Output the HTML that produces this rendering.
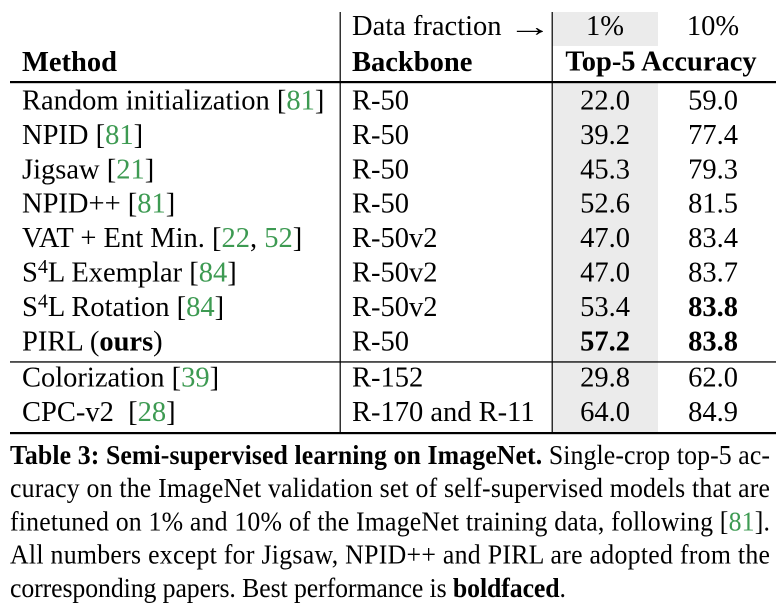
<!DOCTYPE html>
<html>
<head>
<meta charset="utf-8">
<style>
  html, body { margin: 0; padding: 0; background: #fff; }
  body { width: 776px; height: 608px; overflow: hidden; }
  svg { display: block; }
  text { font-family: "Liberation Serif", "Times New Roman", serif; fill: #000; }
  .t { font-size: 28.5px; }
  .b { font-weight: bold; }
  .g { fill: #3d9a52; }
  .c { font-size: 25.8px; }
</style>
</head>
<body>
<svg width="776" height="608" viewBox="0 0 776 608" xmlns="http://www.w3.org/2000/svg">
  <rect x="0" y="0" width="776" height="608" fill="#fff"/>

  <!-- gray shading for 1% column -->
  <rect x="552" y="12" width="106" height="34" fill="#ebebeb"/>
  <rect x="552" y="83" width="106" height="349" fill="#ebebeb"/>

  <!-- rules -->
  <rect x="10" y="81" width="766" height="2.2" fill="#000"/>
  <rect x="10" y="361.3" width="766" height="1.3" fill="#000"/>
  <rect x="10" y="432" width="766" height="2.2" fill="#000"/>

  <!-- vertical lines -->
  <rect x="339.6" y="12" width="1.2" height="421" fill="#000"/>
  <rect x="551.6" y="12" width="1.2" height="421" fill="#000"/>

  <!-- header -->
  <text class="t" x="352" y="35">Data fraction</text>
  <g transform="translate(508,36) scale(1.55,1)">
    <text class="t" x="0" y="0">→</text>
  </g>
  <text class="t" x="605" y="35" text-anchor="middle">1%</text>
  <text class="t" x="713" y="35" text-anchor="middle">10%</text>

  <text class="t b" x="22" y="71">Method</text>
  <text class="t b" x="352" y="71">Backbone</text>
  <text class="t b" x="661" y="70.5" text-anchor="middle">Top-5 Accuracy</text>

  <!-- rows -->
  <text class="t" x="22" y="109.5">Random initialization [<tspan class="g">81</tspan>]</text>
  <text class="t" x="352" y="109.5">R-50</text>
  <text class="t" x="605" y="109.5" text-anchor="middle">22.0</text>
  <text class="t" x="713" y="109.5" text-anchor="middle">59.0</text>

  <text class="t" x="22" y="143.9">NPID [<tspan class="g">81</tspan>]</text>
  <text class="t" x="352" y="143.9">R-50</text>
  <text class="t" x="605" y="143.9" text-anchor="middle">39.2</text>
  <text class="t" x="713" y="143.9" text-anchor="middle">77.4</text>

  <text class="t" x="22" y="178.3">Jigsaw [<tspan class="g">21</tspan>]</text>
  <text class="t" x="352" y="178.3">R-50</text>
  <text class="t" x="605" y="178.3" text-anchor="middle">45.3</text>
  <text class="t" x="713" y="178.3" text-anchor="middle">79.3</text>

  <text class="t" x="22" y="212.7">NPID++ [<tspan class="g">81</tspan>]</text>
  <text class="t" x="352" y="212.7">R-50</text>
  <text class="t" x="605" y="212.7" text-anchor="middle">52.6</text>
  <text class="t" x="713" y="212.7" text-anchor="middle">81.5</text>

  <text class="t" x="22" y="247.1">VAT + Ent Min. [<tspan class="g">22</tspan>, <tspan class="g">52</tspan>]</text>
  <text class="t" x="352" y="247.1">R-50v2</text>
  <text class="t" x="605" y="247.1" text-anchor="middle">47.0</text>
  <text class="t" x="713" y="247.1" text-anchor="middle">83.4</text>

  <text class="t" x="22" y="281.5">S<tspan font-size="20" dy="-8.5">4</tspan><tspan dy="8.5">L Exemplar [</tspan><tspan class="g">84</tspan>]</text>
  <text class="t" x="352" y="281.5">R-50v2</text>
  <text class="t" x="605" y="281.5" text-anchor="middle">47.0</text>
  <text class="t" x="713" y="281.5" text-anchor="middle">83.7</text>

  <text class="t" x="22" y="315.9">S<tspan font-size="20" dy="-8.5">4</tspan><tspan dy="8.5">L Rotation [</tspan><tspan class="g">84</tspan>]</text>
  <text class="t" x="352" y="315.9">R-50v2</text>
  <text class="t" x="605" y="315.9" text-anchor="middle">53.4</text>
  <text class="t b" x="713" y="315.9" text-anchor="middle">83.8</text>

  <text class="t" x="22" y="350.3">PIRL (<tspan class="b">ours</tspan>)</text>
  <text class="t" x="352" y="350.3">R-50</text>
  <text class="t b" x="605" y="350.3" text-anchor="middle">57.2</text>
  <text class="t b" x="713" y="350.3" text-anchor="middle">83.8</text>

  <text class="t" x="22" y="386.5">Colorization [<tspan class="g">39</tspan>]</text>
  <text class="t" x="352" y="386.5">R-152</text>
  <text class="t" x="605" y="386.5" text-anchor="middle">29.8</text>
  <text class="t" x="713" y="386.5" text-anchor="middle">62.0</text>

  <text class="t" x="22" y="421" xml:space="preserve">CPC-v2  [<tspan class="g">28</tspan>]</text>
  <text class="t" x="352" y="421">R-170 and R-11</text>
  <text class="t" x="605" y="421" text-anchor="middle">64.0</text>
  <text class="t" x="713" y="421" text-anchor="middle">84.9</text>

  <!-- caption -->
  <g transform="translate(10,464) scale(1,1.07)">
    <text class="c" x="0" y="0" textLength="760" lengthAdjust="spacing"><tspan class="b">Table 3: Semi-supervised learning on ImageNet.</tspan> Single-crop top-5 ac-</text>
  </g>
  <g transform="translate(10,497.2) scale(1,1.07)">
    <text class="c" x="0" y="0" textLength="760" lengthAdjust="spacing">curacy on the ImageNet validation set of self-supervised models that are</text>
  </g>
  <g transform="translate(10,530.4) scale(1,1.07)">
    <text class="c" x="0" y="0" textLength="760" lengthAdjust="spacing">finetuned on 1% and 10% of the ImageNet training data, following [<tspan class="g">81</tspan>].</text>
  </g>
  <g transform="translate(10,563.6) scale(1,1.07)">
    <text class="c" x="0" y="0" textLength="760" lengthAdjust="spacing">All numbers except for Jigsaw, NPID++ and PIRL are adopted from the</text>
  </g>
  <g transform="translate(10,596.8) scale(1,1.07)">
    <text class="c" x="0" y="0" textLength="556" lengthAdjust="spacing">corresponding papers. Best performance is <tspan class="b">boldfaced</tspan>.</text>
  </g>
</svg>
</body>
</html>
